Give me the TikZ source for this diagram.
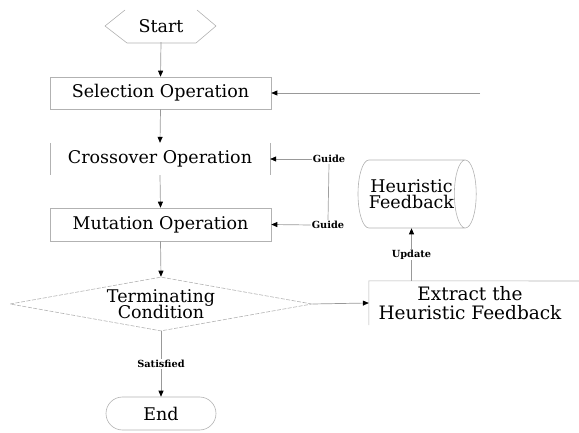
\documentclass[tikz,border=0pt]{standalone}
\usepackage{fontspec}
\setmainfont{DejaVu Serif}
\usetikzlibrary{shapes.geometric,shapes.misc,arrows.meta}
\begin{document}
\begin{tikzpicture}[x=1pt,y=-1pt,
  txt/.style={font=\fontsize{17.5}{19}\selectfont, align=center, text=black},
  lbl/.style={font=\bfseries\fontsize{9.8}{11}\selectfont, fill=white, inner sep=1pt, text=black},
  boxc/.style={draw=gray!60, line width=0.6pt},
  conn/.style={draw=gray!80, line width=0.7pt, -{Triangle[length=6pt,width=5pt,color=black]}},
  plain/.style={draw=gray!75, line width=0.7pt}]
\useasboundingbox (0,0) rectangle (579,433);
% Start hexagon (partially drawn as in reference)
\node[txt, minimum width=110pt, minimum height=32pt, inner sep=0pt] (start) at (161,26) {Start};
\draw[boxc] (125,10) -- (105,26) -- (127,43) -- (196,43) -- (216,26) -- (197,10);
% process boxes
\node[txt, boxc, draw, minimum width=221pt, minimum height=32pt, inner sep=0pt] (sel) at (160.5,93) {Selection Operation};
\node[txt, minimum width=220pt, minimum height=32pt, inner sep=0pt] (cro) at (160,159) {Crossover Operation};
\draw[boxc] (cro.north west) -- (cro.south west);
\draw[boxc] (cro.north east) -- (cro.south east);
\node[txt, boxc, draw, minimum width=221pt, minimum height=33pt, inner sep=0pt] (mut) at (160.5,224.5) {Mutation Operation};
% decision
\node[txt, diamond, aspect=5.6, draw=gray!60, dashed, dash pattern=on 4pt off 1.5pt, line width=0.6pt, minimum width=302pt, minimum height=54pt, inner sep=0pt] (cond) at (161,304) {Terminating\\[-3pt]Condition};
% end
\node[txt, rounded rectangle, boxc, draw, minimum width=110pt, minimum height=33pt, inner sep=0pt] (end) at (161,413.5) {End};
% heuristic feedback store
\node[txt, cylinder, shape aspect=0.75, boxc, draw, minimum width=68pt, minimum height=117pt, inner sep=0pt] (heur) at (411.5,194) {Heuristic\\[-3pt]Feedback};
% extract box (partially visible)
\node[txt, font=\fontsize{18.5}{20}\selectfont, minimum width=202pt, minimum height=44pt, inner sep=0pt] (ext) at (470,303) {Extract the\\[-1pt]Heuristic Feedback};
\draw[boxc] (ext.south west) -- (ext.north west) -- (582,281);
% guide labels
\node[lbl] (g1) at (329,159) {Guide};
\node[lbl] (g2) at (328,225) {Guide};
\coordinate (in) at (480,93);
% connectors
\draw[conn] (start.south) -- (sel.north);
\draw[conn] (sel.south) -- (cro.north);
\draw[conn] (cro.south) -- (mut.north);
\draw[conn] (mut.south) -- (cond.north);
\draw[conn] (cond.south) -- node[lbl, pos=0.5] {Satisfied} (end.north);
\draw[conn] (cond.east) -- (ext.west);
\draw[conn] (ext.north -| heur.south) -- node[lbl, pos=0.5] {Update} (heur.south);
\draw[conn] (in) -- (sel.east);
\draw[conn] (g1.west) -- (cro.east);
\draw[conn] (g2.west) -- (mut.east);
\draw[plain] (g1.south) -- (g2.north);
\end{tikzpicture}
\end{document}
